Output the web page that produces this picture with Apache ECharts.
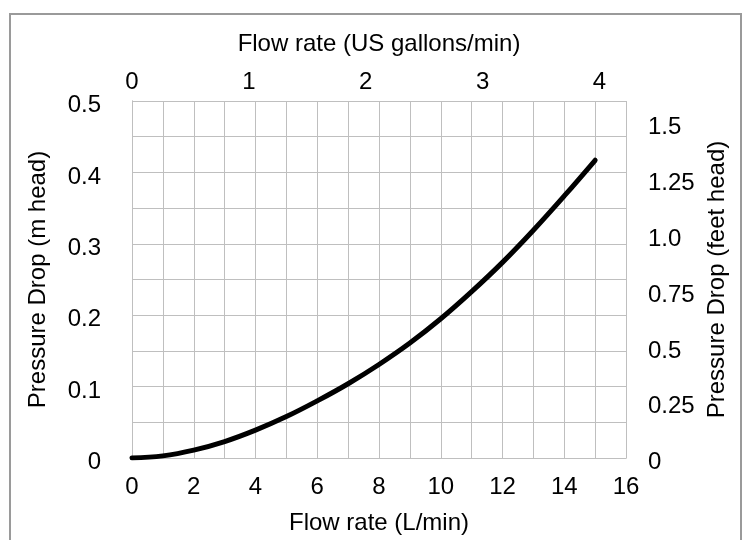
<!DOCTYPE html>
<html>
<head>
<meta charset="utf-8">
<script src="https://cdn.jsdelivr.net/npm/echarts@6/dist/echarts.min.js"></script>
<style>
html,body{margin:0;padding:0;background:#fff;}
#chart{width:748px;height:540px;}
</style>
</head>
<body>
<div id="chart"></div>
<script>
// Flow rate (L/min)
var flowLpm = [0, 1, 2, 3, 4, 5, 6, 7, 8, 9, 10, 11, 12, 13, 14, 15];
// Pressure drop (m head)
var dropM = [0, 0.003, 0.011, 0.023, 0.039, 0.058, 0.080, 0.104, 0.131, 0.161, 0.195, 0.233, 0.274, 0.319, 0.367, 0.417];
var bottomTicks = [0, 2, 4, 6, 8, 10, 12, 14, 16];
var topTicks = [0, 1, 2, 3, 4];
var leftTicks = [0, 0.1, 0.2, 0.3, 0.4, 0.5];
var rightTicks = ['0', '0.25', '0.5', '0.75', '1.0', '1.25', '1.5'];

var FONT = 'Liberation Sans, Arial, Helvetica, sans-serif';
var gridColor = '#bfbfbf';
var chart = echarts.init(document.getElementById('chart'));

function near(v, arr) {
  for (var i = 0; i < arr.length; i++) if (Math.abs(v - arr[i]) < 1e-6) return true;
  return false;
}
var labelStyle = {color: '#000', fontFamily: FONT, fontSize: 24};
var nameStyle = {color: '#000', fontFamily: FONT, fontSize: 24};
var shiftRich = {s: {color: '#000', fontFamily: FONT, fontSize: 24, padding: [9, 0, 0, 0]}};

chart.setOption({
  animation: false,
  backgroundColor: '#fff',
  graphic: [{
    type: 'rect', silent: true,
    shape: {x: 10, y: 14, width: 731, height: 560},
    style: {fill: 'none', stroke: '#9a9a9a', lineWidth: 2}
  }],
  grid: {left: 132, right: 122, top: 101, bottom: 82, containLabel: false, outerBoundsMode: 'none'},
  xAxis: [{
    type: 'value', position: 'bottom', min: 0, max: 16, interval: 1,
    name: 'Flow rate (L/min)', nameLocation: 'middle', nameGap: 53, nameTextStyle: nameStyle,
    axisLine: {show: true, lineStyle: {color: gridColor, width: 1}},
    axisTick: {show: false},
    splitLine: {show: true, lineStyle: {color: gridColor, width: 1}},
    axisLabel: Object.assign({margin: 17, formatter: function (v) {
      return near(v, bottomTicks) ? String(v) : '';
    }}, labelStyle)
  }, {
    type: 'value', position: 'top', min: 0, max: 16 / 3.78541, interval: 1,
    name: 'Flow rate (US gallons/min)', nameLocation: 'middle', nameGap: 45, nameTextStyle: nameStyle,
    axisLine: {show: true, lineStyle: {color: gridColor, width: 1}},
    axisTick: {show: false},
    splitLine: {show: false},
    axisLabel: Object.assign({margin: 7, formatter: function (v) {
      return near(v, topTicks) ? String(v) : '';
    }}, labelStyle)
  }],
  yAxis: [{
    type: 'value', position: 'left', min: 0, max: 0.5, interval: 0.05,
    name: 'Pressure Drop (m head)', nameLocation: 'middle', nameGap: 82, nameRotate: 90, nameTextStyle: nameStyle,
    axisLine: {show: true, lineStyle: {color: gridColor, width: 1}},
    axisTick: {show: false},
    splitLine: {show: true, lineStyle: {color: gridColor, width: 1}},
    axisLabel: Object.assign({margin: 31, rich: shiftRich, formatter: function (v) {
      return near(v, leftTicks) ? '{s|' + String(Math.round(v * 10) / 10) + '}' : '';
    }}, labelStyle)
  }, {
    type: 'value', position: 'right', min: 0, max: 1.6, interval: 0.25,
    name: 'Pressure Drop (feet head)', nameLocation: 'middle', nameGap: 74, nameRotate: 90, nameTextStyle: nameStyle,
    axisLine: {show: true, lineStyle: {color: gridColor, width: 1}},
    axisTick: {show: false},
    splitLine: {show: false},
    axisLabel: Object.assign({margin: 22, rich: shiftRich, formatter: function (v) {
      var idx = Math.round(v / 0.25);
      if (Math.abs(v - idx * 0.25) > 1e-6 || idx >= rightTicks.length) return '';
      return '{s|' + rightTicks[idx] + '}';
    }}, labelStyle)
  }],
  series: [{
    type: 'line', xAxisIndex: 0, yAxisIndex: 0,
    data: flowLpm.map(function (x, i) { return [x, dropM[i]]; }),
    smooth: 0.4, showSymbol: false, symbol: 'none',
    lineStyle: {color: '#000', width: 5, cap: 'round'}
  }]
});
</script>
</body>
</html>
